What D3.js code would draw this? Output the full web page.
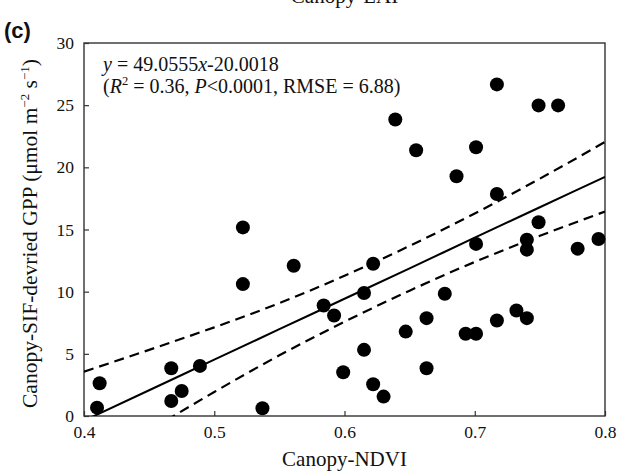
<!DOCTYPE html>
<html>
<head>
<meta charset="utf-8">
<script src="https://cdn.jsdelivr.net/npm/d3@7"></script>
<style>
  body { margin: 0; background: #fff; }
  svg text { font-family: "Liberation Serif", "Times New Roman", serif; fill: #111; }
</style>
</head>
<body>
<div id="chart"></div>
<script>
// Scatter points
var ndvi = [0.410, 0.412, 0.467, 0.467, 0.475, 0.489, 0.522, 0.522, 0.537, 0.561,
            0.584, 0.592, 0.599, 0.615, 0.615, 0.622, 0.622, 0.630, 0.639, 0.655,
            0.647, 0.663, 0.663, 0.677, 0.686, 0.693, 0.701, 0.701, 0.701, 0.717,
            0.717, 0.717, 0.732, 0.740, 0.740, 0.740, 0.749, 0.749, 0.764, 0.779, 0.795];
var gpp  = [0.67, 2.63, 3.84, 1.21, 2.01, 4.03, 15.17, 10.61, 0.62, 12.09,
            8.89, 8.08, 3.52, 9.89, 5.32, 12.25, 2.55, 1.56, 23.85, 21.38,
            6.79, 7.87, 3.84, 9.83, 19.28, 6.61, 6.61, 21.62, 13.84, 26.67,
            17.86, 7.68, 8.49, 7.87, 14.18, 13.38, 24.98, 15.58, 24.98, 13.46, 14.24];

// Fitted line and confidence band, read at regular NDVI steps
var bandX  = [0.40, 0.45, 0.50, 0.55, 0.60, 0.65, 0.70, 0.75, 0.80];
var fitY   = [-0.38, 2.07, 4.53, 6.98, 9.43, 11.88, 14.34, 16.79, 19.24];
var upperY = [3.57, 5.32, 7.13, 9.08, 11.28, 13.68, 16.29, 19.09, 22.04];
var lowerY = [-4.33, -1.18, 1.93, 4.88, 7.58, 10.08, 12.39, 14.49, 16.44];

var xTicks = [0.4, 0.5, 0.6, 0.7, 0.8];
var yTicks = [0, 5, 10, 15, 20, 25, 30];

var w = 621, h = 474;
var pLeft = 84, pRight = 605, pTop = 43, pBottom = 416;

var svg = d3.select("#chart").append("svg")
    .attr("width", w)
    .attr("height", h);

var xScale = d3.scaleLinear().domain([0.4, 0.8]).range([pLeft, pRight]);
var yScale = d3.scaleLinear().domain([0, 30]).range([pBottom, pTop]);

svg.append("clipPath").attr("id", "plotClip")
  .append("rect")
    .attr("x", pLeft).attr("y", pTop)
    .attr("width", pRight - pLeft).attr("height", pBottom - pTop);

// axes with inward ticks
svg.append("g")
    .attr("transform", "translate(0," + pBottom + ")")
    .call(d3.axisBottom(xScale).tickValues(xTicks).tickFormat(d3.format(".1f"))
        .tickSize(-5).tickPadding(10))
    .attr("font-size", 17.5).attr("font-family", null);
svg.append("g")
    .attr("transform", "translate(" + pLeft + ",0)")
    .call(d3.axisLeft(yScale).tickValues(yTicks).tickFormat(d3.format("d"))
        .tickSize(-5).tickPadding(10))
    .attr("font-size", 17.5).attr("font-family", null);
svg.selectAll(".domain").remove();
svg.selectAll(".tick line").attr("stroke", "#333").attr("stroke-width", 1.2);

// frame
svg.append("rect")
    .attr("x", pLeft).attr("y", pTop)
    .attr("width", pRight - pLeft).attr("height", pBottom - pTop)
    .attr("fill", "none").attr("stroke", "#333").attr("stroke-width", 1.4);

var band = bandX.map(function(x, i) {
  return { x: x, fit: fitY[i], up: upperY[i], lo: lowerY[i] };
});

var lineGroup = svg.append("g").attr("clip-path", "url(#plotClip)");

function bandLine(key) {
  return d3.line()
    .x(function(d) { return xScale(d.x); })
    .y(function(d) { return yScale(d[key]); })
    .curve(d3.curveMonotoneX);
}

lineGroup.append("path").datum(band)
    .attr("d", bandLine("fit"))
    .attr("fill", "none").attr("stroke", "#000").attr("stroke-width", 2);
["up", "lo"].forEach(function(k) {
  lineGroup.append("path").datum(band)
      .attr("d", bandLine(k))
      .attr("fill", "none").attr("stroke", "#000").attr("stroke-width", 2.2)
      .attr("stroke-dasharray", "10,6");
});

// points
svg.append("g").selectAll("circle")
    .data(ndvi.map(function(x, i) { return [x, gpp[i]]; }))
    .enter().append("circle")
    .attr("cx", function(d) { return xScale(d[0]); })
    .attr("cy", function(d) { return yScale(d[1]); })
    .attr("r", 7)
    .attr("fill", "#000");

// regression annotation
var ann = svg.append("g").attr("font-size", 20);
var t1 = ann.append("text").attr("x", 103).attr("y", 71);
t1.append("tspan").attr("font-style", "italic").text("y");
t1.append("tspan").text(" = 49.0555");
t1.append("tspan").attr("font-style", "italic").text("x");
t1.append("tspan").text("-20.0018");

var t2 = ann.append("text").attr("x", 103).attr("y", 93);
t2.append("tspan").text("(");
t2.append("tspan").attr("font-style", "italic").text("R");
t2.append("tspan").attr("font-size", 12.5).attr("dy", -8).text("2");
t2.append("tspan").attr("dy", 8).text(" = 0.36, ");
t2.append("tspan").attr("font-style", "italic").text("P");
t2.append("tspan").text("<0.0001, RMSE = 6.88)");

// axis titles
svg.append("text")
    .attr("x", (pLeft + pRight) / 2).attr("y", 466)
    .attr("text-anchor", "middle").attr("font-size", 21)
    .text("Canopy-NDVI");

var yt = svg.append("text")
    .attr("transform", "translate(37," + ((pTop + pBottom) / 2 + 4) + ") rotate(-90)")
    .attr("text-anchor", "middle").attr("font-size", 21.5);
yt.append("tspan").text("Canopy-SIF-devried GPP (\u03bcmol m");
yt.append("tspan").attr("font-size", 13).attr("dy", -8).text("\u22122");
yt.append("tspan").attr("dy", 8).text(" s");
yt.append("tspan").attr("font-size", 13).attr("dy", -8).text("\u22121");
yt.append("tspan").attr("dy", 8).text(")");

// panel title cut at the top, and panel letter
svg.append("text")
    .attr("x", (pLeft + pRight) / 2).attr("y", 3)
    .attr("text-anchor", "middle").attr("font-size", 21)
    .text("Canopy-LAI");

svg.append("text")
    .attr("x", 4).attr("y", 38)
    .attr("font-size", 22).attr("font-weight", "bold")
    .style("font-family", "'Liberation Sans', Arial, sans-serif")
    .text("(c)");
</script>
</body>
</html>
